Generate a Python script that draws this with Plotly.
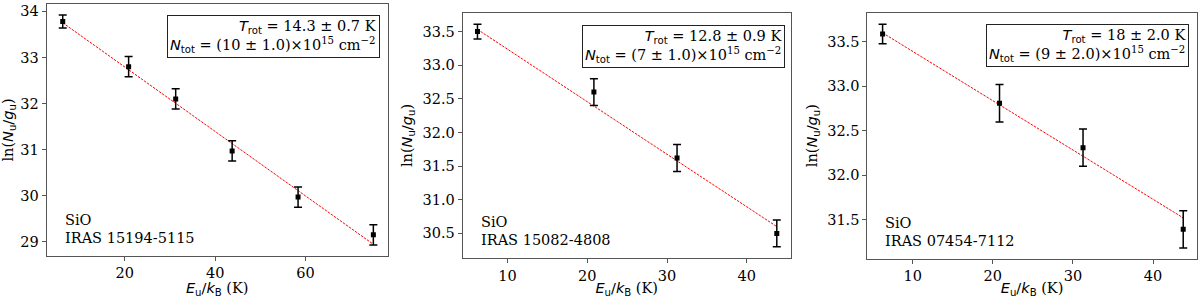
import plotly.graph_objects as go
import numpy as np

SERIF = "DejaVu Serif"
SANS = "DejaVu Sans"
FS = 14.5

# ---- data ----
eu_1 = [6.25, 20.84, 31.26, 43.76, 58.35, 75.02]
ln_1 = [33.78, 32.80, 32.10, 30.97, 29.97, 29.15]
err_1 = [0.14, 0.22, 0.22, 0.22, 0.22, 0.22]

eu_2 = [6.25, 20.84, 31.26, 43.76]
ln_2 = [33.50, 32.60, 31.62, 30.50]
err_2 = [0.11, 0.20, 0.20, 0.20]

eu_3 = [6.25, 20.84, 31.26, 43.76]
ln_3 = [33.59, 32.81, 32.31, 31.39]
err_3 = [0.11, 0.21, 0.21, 0.21]

sources = ["IRAS 15194-5115", "IRAS 15082-4808", "IRAS 07454-7112"]
molecule = "SiO"
trot = ["14.3", "12.8", "18"]
trot_err = ["0.7", "0.9", "2.0"]
ntot = ["10", "7", "9"]
ntot_err = ["1.0", "1.0", "2.0"]
trot_val = [14.3, 12.8, 18.0]
intercept = [34.19, 34.02, 33.95]

# ---- layout constants ----
xdom = [[0.0389, 0.3231], [0.3856, 0.6589], [0.7228, 0.9973]]
ydom = [[0.1409, 0.9866], [0.1332, 0.9574], [0.1322, 0.9574]]
xrng = [[2.7, 78.2], [4.4, 45.5], [4.35, 45.45]]
yrng = [[28.69, 34.16], [30.13, 33.78], [31.06, 33.83]]
xtk = [[20, 40, 60], [10, 20, 30, 40], [10, 20, 30, 40]]
ytk = [[29, 30, 31, 32, 33, 34],
       [30.5, 31.0, 31.5, 32.0, 32.5, 33.0, 33.5],
       [31.5, 32.0, 32.5, 33.0, 33.5]]
yfmt = ["d", ".1f", ".1f"]
box_xshift = [-8, -6, -8]
box_yshift = [-11, -12, -11]

fig = go.Figure()
datasets = [(eu_1, ln_1, err_1), (eu_2, ln_2, err_2), (eu_3, ln_3, err_3)]

def s(t):
    return f'<span style="font-family:{SANS}">{t}</span>'

for i, (ex, ly, er) in enumerate(datasets):
    xa = "x" if i == 0 else f"x{i+1}"
    ya = "y" if i == 0 else f"y{i+1}"
    fx = np.array([ex[0], ex[-1]])
    fy = intercept[i] - fx / trot_val[i]
    fig.add_trace(go.Scatter(x=fx, y=fy, mode="lines", xaxis=xa, yaxis=ya,
                             line=dict(color="red", width=1, dash="2.5px,1.2px"),
                             showlegend=False, hoverinfo="skip"))
    fig.add_trace(go.Scatter(x=ex, y=ly, mode="markers", xaxis=xa, yaxis=ya,
                             marker=dict(symbol="square", size=5, color="black"),
                             error_y=dict(type="data", array=er, visible=True,
                                          color="black", thickness=1.5, width=4),
                             showlegend=False))
    axcommon = dict(showline=True, mirror=True, linecolor="#555", linewidth=1,
                    ticks="outside", ticklen=4, tickcolor="#555", showgrid=False,
                    zeroline=False, tickfont=dict(family=SERIF, size=FS, color="black"))
    xkey = "xaxis" if i == 0 else f"xaxis{i+1}"
    ykey = "yaxis" if i == 0 else f"yaxis{i+1}"
    fig.update_layout(**{
        xkey: dict(domain=xdom[i], range=xrng[i], tickvals=xtk[i], anchor=ya,
                   title=dict(text=s("<i>E</i><sub>u</sub>/<i>k</i><sub>B</sub>") + " (K)",
                              font=dict(family=SERIF, size=FS, color="black"), standoff=2),
                   **axcommon),
        ykey: dict(domain=ydom[i], range=yrng[i], tickvals=ytk[i], tickformat=yfmt[i],
                   anchor=xa,
                   title=dict(text="ln(" + s("<i>N</i><sub>u</sub>/<i>g</i><sub>u</sub>") + ")",
                              font=dict(family=SERIF, size=FS, color="black"), standoff=6),
                   **axcommon),
    })
    xd = "x domain" if i == 0 else f"x{i+1} domain"
    yd = "y domain" if i == 0 else f"y{i+1} domain"
    box = (s("<i>T</i><sub>rot</sub>") + f" = {trot[i]} ± {trot_err[i]} K<br>"
           + s("<i>N</i><sub>tot</sub>") + f" = ({ntot[i]} ± {ntot_err[i]})×10<sup>15</sup> cm<sup>−2</sup>")
    fig.add_annotation(xref=xd, yref=yd, x=1, y=1, xanchor="right", yanchor="top",
                       xshift=box_xshift[i], yshift=box_yshift[i], text=box, align="right",
                       showarrow=False,
                       bordercolor="#222", borderwidth=1, borderpad=2, bgcolor="white",
                       font=dict(family=SERIF, size=FS, color="black"))
    fig.add_annotation(xref=xd, yref=yd, x=0, y=0, xanchor="left", yanchor="bottom",
                       xshift=16, yshift=8, text=sources[i],
                       align="left", showarrow=False,
                       font=dict(family=SERIF, size=FS, color="black"))
    fig.add_annotation(xref=xd, yref=yd, x=0, y=0, xanchor="left", yanchor="bottom",
                       xshift=16, yshift=26, text=molecule,
                       align="left", showarrow=False,
                       font=dict(family=SERIF, size=FS, color="black"))

fig.update_layout(width=1200, height=298, margin=dict(l=0, r=0, t=0, b=0),
                  plot_bgcolor="white", paper_bgcolor="white",
                  font=dict(family=SERIF, size=FS, color="black"))
fig.write_html("out.html", config={"displayModeBar": False},
               post_script="document.body.style.margin='0';document.body.style.overflow='hidden';")
